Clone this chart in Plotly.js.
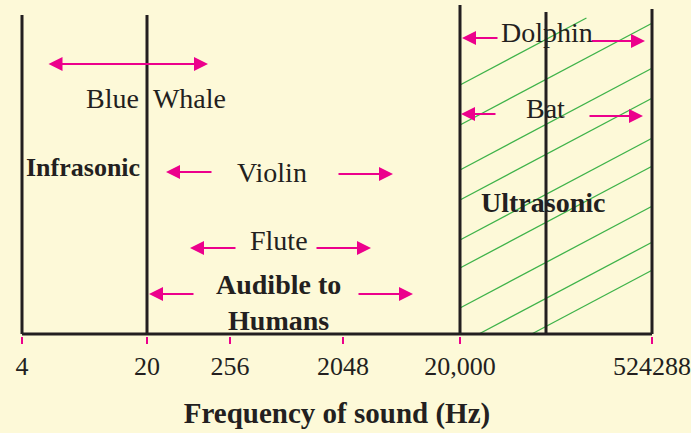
<!DOCTYPE html>
<html>
<head>
<meta charset="utf-8">
<script src="https://cdn.plot.ly/plotly-3.0.1.min.js"></script>
<style>html,body{margin:0;padding:0;background:#fdf9d8;}#chart{width:691px;height:433px;}</style>
</head>
<body>
<div id="chart"></div>
<script>
// ---- Data (schematic frequency scale) ----
const tickLabels = ['4', '20', '256', '2048', '20,000', '524288'];
const tickPos    = [0, 125, 208, 321, 438, 630];          // schematic axis positions
const boundaryPos = [0, 125, 438, 524, 630];              // vertical divider positions
const boundaryTop = [319, 319, 329, 322, 325];

const sources   = ['Blue Whale', 'Violin', 'Flute', 'Audible to Humans', 'Dolphin', 'Bat'];
const rangeLow  = [25, 144, 168, 127, 440, 439];           // arrow heads (low end)
const rangeLowTail  = [186, 191, 215, 173, 477, 475];
const rangeHighTail = [25, 315, 293, 335, 568, 566];
const rangeHigh = [186, 371, 349, 391, 623, 621];
const rowLevel  = [270, 162, 86, 40, 296, 220];
const rowLevelR = [270, 160, 86, 40, 293, 218];

const regionNames = ['Infrasonic', 'Ultrasonic'];

// hatch lines in ultrasonic band: height at left edge of band
const hatchLeft = [249, 209, 164, 134, 94, 66, 26, -10, -38];

// ---- Build ----
const INK = '#231f20', PINK = '#ec008c', GREEN = '#3fb34a';
const SERIF = 'Liberation Serif, Times New Roman, serif';

const shapes = [];
// axis baseline
shapes.push({type: 'line', xref: 'x', yref: 'y', x0: tickPos[0], x1: tickPos[tickPos.length - 1], y0: 0, y1: 0,
  line: {color: INK, width: 3}, layer: 'above'});
boundaryPos.forEach((x, i) => shapes.push({
  type: 'line', xref: 'x', yref: 'y', x0: x, x1: x, y0: 0, y1: boundaryTop[i],
  line: {color: INK, width: 3}, layer: 'above'
}));
const slope = 0.53, bandL = 438, bandR = 630, topY = 316;
hatchLeft.forEach(h => {
  let x0 = bandL, y0 = h;
  if (y0 < 0) { x0 = bandL + (-y0) / slope; y0 = 0; }
  let x1 = bandR, y1 = h + slope * (bandR - bandL);
  if (y1 > topY) { x1 = bandL + (topY - h) / slope; y1 = topY; }
  shapes.push({type: 'line', xref: 'x', yref: 'y', x0, y0, x1, y1,
    line: {color: GREEN, width: 1.3}, layer: 'below'});
});

const annotations = [];
const arrowBase = {text: '', showarrow: true, axref: 'x', ayref: 'y', xref: 'x', yref: 'y',
  arrowhead: 2, arrowsize: 1.4, arrowwidth: 2, arrowcolor: PINK, standoff: 0, startstandoff: 0};
sources.forEach((s, i) => {
  if (i === 0) {
    annotations.push(Object.assign({}, arrowBase, {x: rangeHigh[i], y: rowLevel[i], ax: rangeLow[i], ay: rowLevel[i], arrowside: 'end+start'}));
  } else {
    annotations.push(Object.assign({}, arrowBase, {x: rangeLow[i], y: rowLevel[i], ax: rangeLowTail[i], ay: rowLevel[i]}));
    annotations.push(Object.assign({}, arrowBase, {x: rangeHigh[i], y: rowLevelR[i], ax: rangeHighTail[i], ay: rowLevelR[i]}));
  }
});

const labelText = ['Blue\u2002Whale', 'Violin', 'Flute', 'Audible to<br>Humans', 'Dolphin', 'Bat'];
const labelX = [133.5, 250, 257, 256, 525, 523];
const labelY = [236, 162, 94, 32, 302, 226];
const labelBold = [false, false, false, true, false, false];
labelText.forEach((t, i) => annotations.push({
  text: t, x: labelX[i], y: labelY[i], xref: 'x', yref: 'y', showarrow: false,
  xanchor: 'center', yanchor: 'middle',
  font: {family: SERIF, size: 28, color: INK, weight: labelBold[i] ? 'bold' : 'normal'}
}));
const regionX = [61, 521], regionY = [167, 132], regionSize = [26, 28];
regionNames.forEach((t, i) => annotations.push({
  text: t, x: regionX[i], y: regionY[i], xref: 'x', yref: 'y', showarrow: false,
  xanchor: 'center', yanchor: 'middle',
  font: {family: SERIF, size: regionSize[i], color: INK, weight: 'bold'}
}));

const layout = {
  width: 691, height: 433,
  margin: {l: 17, r: 34, t: 0, b: 97},
  paper_bgcolor: '#fdf9d8', plot_bgcolor: '#fdf9d8',
  showlegend: false,
  xaxis: {
    range: [-5, 635], showgrid: false, zeroline: false, showline: false,
    tickmode: 'array', tickvals: tickPos, ticktext: tickLabels,
    ticks: 'outside', ticklen: 7, tickwidth: 2, tickcolor: PINK,
    tickfont: {family: SERIF, size: 26, color: INK},
    title: {text: 'Frequency of sound (Hz)', standoff: 22,
      font: {family: SERIF, size: 29, color: INK, weight: 'bold'}},
    fixedrange: true
  },
  yaxis: {range: [-2, 334], visible: false, fixedrange: true},
  shapes, annotations
};

Plotly.newPlot('chart', [{x: [], y: [], type: 'scatter'}], layout, {displayModeBar: false, staticPlot: true});
</script>
</body>
</html>
